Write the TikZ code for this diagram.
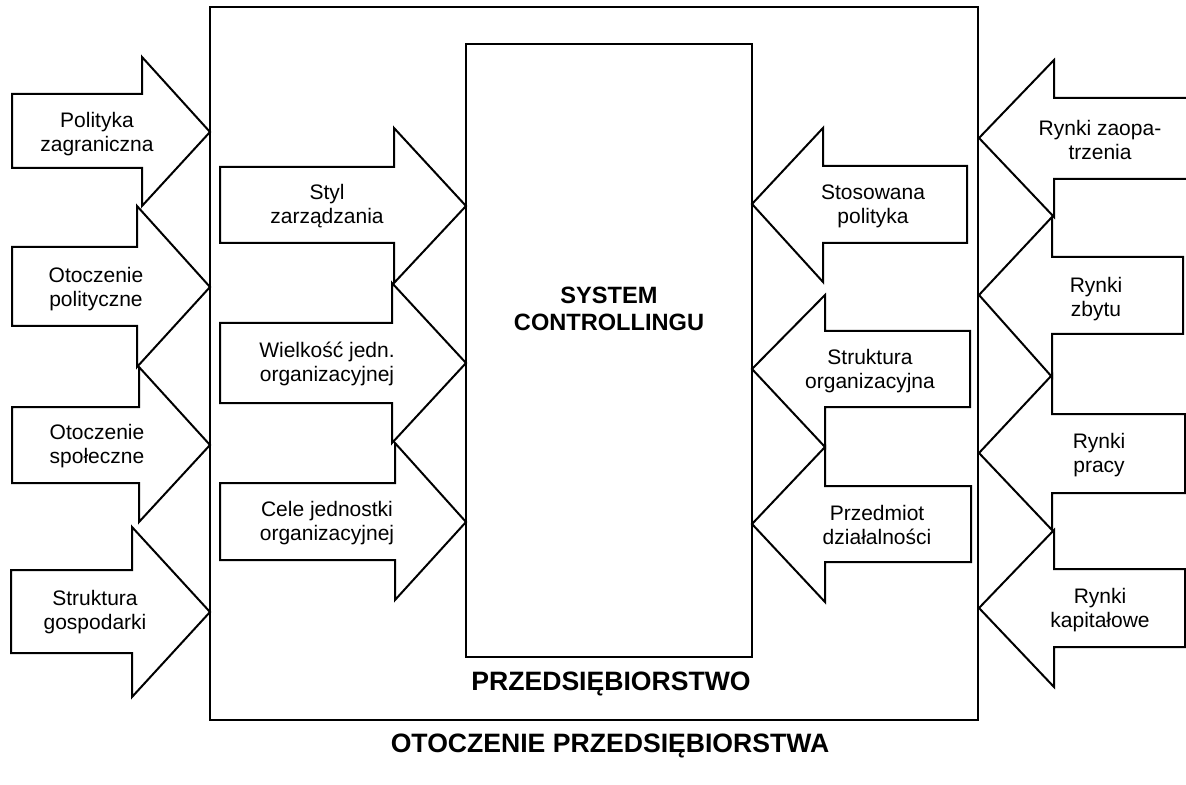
\documentclass[tikz,border=0pt]{standalone}
\usepackage{fontspec}
\setmainfont{Liberation Sans}
\tikzset{
  arr/.style={draw=black, line width=1pt, line join=miter},
  lbl/.style={align=center, inner sep=0pt, font=\fontsize{10.5}{12}\selectfont},
  frame/.style={draw=black, line width=0.8pt},
  core/.style={draw=black, line width=1.1pt},
  title/.style={align=center, inner sep=0pt, font=\bfseries\fontsize{11.8}{13.5}\selectfont},
  bigtitle/.style={align=center, inner sep=0pt, font=\bfseries\fontsize{13.3}{15}\selectfont}
}
% right-pointing arrow: L, bodytop, bodybottom, headx, headtop, headbottom, tipx, tipy
\newcommand\RightArr[8]{\draw[arr] (#1,#2) -- (#4,#2) -- (#4,#5) -- (#7,#8) -- (#4,#6) -- (#4,#3) -- (#1,#3) -- cycle;}
% left-pointing arrow: R, bodytop, bodybottom, headx, headtop, headbottom, tipx, tipy
\newcommand\LeftArr[8]{\draw[arr] (#1,#2) -- (#4,#2) -- (#4,#5) -- (#7,#8) -- (#4,#6) -- (#4,#3) -- (#1,#3) -- cycle;}
\begin{document}
\begin{tikzpicture}[x=0.5pt, y=-0.5pt]
\clip (0,0) rectangle (1186,785);
\fill[white] (0,0) rectangle (1186,785);

% boxes
\draw[frame] (210,7) rectangle (978,720);
\draw[core] (466,44) rectangle (752,657);
\node[title] (sys) at (609,309) {SYSTEM\\CONTROLLINGU};
\node[bigtitle] (firm) at (611,684) {PRZEDSIĘBIORSTWO};
\node[bigtitle] (env) at (610,746) {OTOCZENIE PRZEDSIĘBIORSTWA};

% left outer arrows
\RightArr{12}{94}{168}{142}{57}{206}{210}{132}
\RightArr{12}{247}{326}{137}{206}{367}{210}{287}
\RightArr{12}{407}{483}{139}{367}{522}{210}{445}
\RightArr{11}{570}{653}{132}{527}{697}{210}{612}
\node[lbl] (pz) at (97,134) {Polityka\\zagraniczna};
\node[lbl] (op) at (96,289) {Otoczenie\\polityczne};
\node[lbl] (os) at (97,446) {Otoczenie\\społeczne};
\node[lbl] (sg) at (95,612) {Struktura\\gospodarki};

% middle left arrows
\RightArr{220}{167}{243}{394}{128}{283}{466}{206}
\RightArr{220}{323}{403}{392}{283}{443}{466}{363}
\RightArr{220}{483}{560}{395}{443}{600}{466}{522}
\node[lbl] (sz) at (327,206) {Styl\\zarządzania};
\node[lbl] (wj) at (327,364) {Wielkość jedn.\\organizacyjnej};
\node[lbl] (cj) at (327,523) {Cele jednostki\\organizacyjnej};

% middle right arrows
\LeftArr{967}{166}{243}{823}{128}{282}{752}{204}
\LeftArr{970}{331}{407}{825}{295}{447}{752}{369}
\LeftArr{971}{486}{562}{825}{447}{602}{752}{524}
\node[lbl] (sp) at (873,206) {Stosowana\\polityka};
\node[lbl] (so) at (870,371) {Struktura\\organizacyjna};
\node[lbl] (pd) at (877,525) {Przedmiot\\działalności};

% right outer arrows
\LeftArr{1200}{98}{179}{1054}{60}{217}{979}{138}
\LeftArr{1183}{257}{334}{1052}{217}{377}{979}{295}
\LeftArr{1185}{414}{493}{1052}{375}{530}{979}{453}
\LeftArr{1185}{569}{647}{1054}{530}{687}{979}{608}
\node[lbl] (rz) at (1100,140) {Rynki zaopa-\\trzenia};
\node[lbl] (rb) at (1096,299) {Rynki\\zbytu};
\node[lbl] (rp) at (1099,455) {Rynki\\pracy};
\node[lbl] (rk) at (1100,610) {Rynki\\kapitałowe};
\end{tikzpicture}
\end{document}
